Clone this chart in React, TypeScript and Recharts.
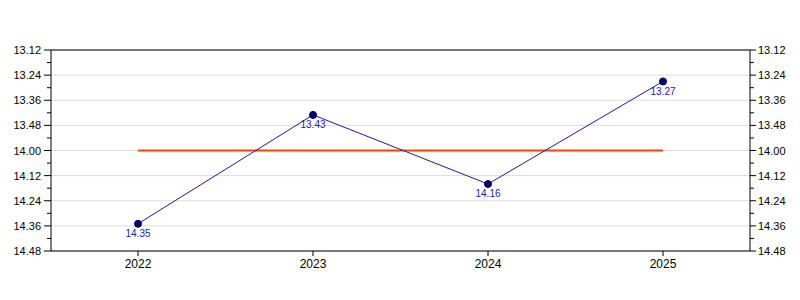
import React from "react";
import {
  LineChart,
  Line,
  XAxis,
  YAxis,
  CartesianGrid,
  ReferenceLine,
  LabelList,
} from "recharts";

// times are minutes.seconds
const years = ["2022", "2023", "2024", "2025"];
const times = ["14.35", "13.43", "14.16", "13.27"];
const targetTimes = ["14.00", "14.00", "14.00", "14.00"];
const tickLabels = [
  "13.12",
  "13.24",
  "13.36",
  "13.48",
  "14.00",
  "14.12",
  "14.24",
  "14.36",
  "14.48",
];

const toSeconds = (s: string) => {
  const [m, ss] = s.split(".");
  return Number(m) * 60 + Number(ss);
};

const majorTicks = tickLabels.map(toSeconds);
const minorTicks = majorTicks.slice(1).map((t, i) => (t + majorTicks[i]) / 2);
const allTicks = [...majorTicks, ...minorTicks].sort((a, b) => a - b);
const labelFor = new Map(majorTicks.map((t, i) => [t, tickLabels[i]]));
const domain: [number, number] = [majorTicks[0], majorTicks[majorTicks.length - 1]];

const data = years.map((year, i) => ({
  year,
  time: toSeconds(times[i]),
  label: times[i],
  target: toSeconds(targetTimes[i]),
}));

const FONT = "Arial, 'Liberation Sans', sans-serif";

function LeftTick(props: any) {
  const { x, y, payload } = props;
  const label = labelFor.get(payload.value);
  const major = label !== undefined;
  return (
    <g>
      <line x1={x - (major ? 7 : 4)} x2={x} y1={y} y2={y} stroke="#000" />
      {major && (
        <text x={x - 10} y={y} dy={4} textAnchor="end" fontSize={11} fill="#000" fontFamily={FONT}>
          {label}
        </text>
      )}
    </g>
  );
}

function RightTick(props: any) {
  const { x, y, payload } = props;
  const label = labelFor.get(payload.value);
  const major = label !== undefined;
  return (
    <g>
      <line x1={x} x2={x + (major ? 6 : 4)} y1={y} y2={y} stroke="#000" />
      {major && (
        <text x={x + 8} y={y} dy={4} textAnchor="start" fontSize={11} fill="#000" fontFamily={FONT}>
          {label}
        </text>
      )}
    </g>
  );
}

export default function App() {
  return (
    <div style={{ position: "absolute", left: 0, top: 0, width: 800, height: 300, background: "#fff" }}>
      <LineChart
        width={800}
        height={300}
        data={data}
        margin={{ top: 50, right: 0, bottom: 0, left: 0 }}
        style={{ fontFamily: FONT }}
      >
        <CartesianGrid
          yAxisId="left"
          vertical={false}
          stroke="#dddddd"
          horizontalValues={majorTicks}
        />
        <XAxis
          dataKey="year"
          height={49}
          padding={{ left: 87, right: 87 }}
          tickSize={5}
          tickLine={{ stroke: "#000" }}
          axisLine={{ stroke: "#000" }}
          tick={{ fontSize: 12, fill: "#000" }}
          tickMargin={3}
        />
        <YAxis
          yAxisId="left"
          type="number"
          domain={domain}
          reversed
          allowDataOverflow
          ticks={allTicks}
          interval={0}
          width={51}
          tickSize={0}
          tickMargin={0}
          tickLine={false}
          axisLine={{ stroke: "#000" }}
          tick={<LeftTick />}
        />
        <YAxis
          yAxisId="right"
          orientation="right"
          type="number"
          domain={domain}
          reversed
          allowDataOverflow
          ticks={allTicks}
          interval={0}
          width={50}
          tickSize={0}
          tickMargin={0}
          tickLine={false}
          axisLine={{ stroke: "#000" }}
          tick={<RightTick />}
        />
        <ReferenceLine yAxisId="left" y={domain[0]} stroke="#000" />
        <Line
          yAxisId="left"
          dataKey="target"
          stroke="#ff4500"
          strokeWidth={2}
          dot={false}
          isAnimationActive={false}
        />
        <Line
          yAxisId="left"
          dataKey="time"
          stroke="#1a1aaa"
          strokeWidth={1}
          dot={{ r: 3.5, fill: "#000080", stroke: "#000033", strokeWidth: 1 }}
          isAnimationActive={false}
        >
          <LabelList dataKey="label" position="bottom" offset={6} fill="#1a1aaa" fontSize={10} />
        </Line>
      </LineChart>
    </div>
  );
}
